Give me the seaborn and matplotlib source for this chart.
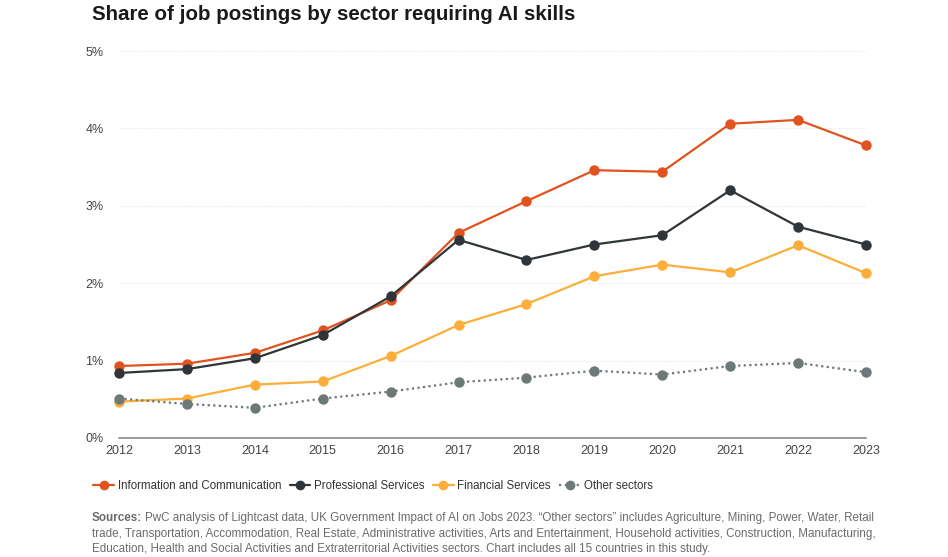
import pandas as pd
import matplotlib.pyplot as plt
import seaborn as sns
from matplotlib.lines import Line2D

years = list(range(2012, 2024))
info_comm = [0.93, 0.96, 1.10, 1.39, 1.78, 2.65, 3.06, 3.46, 3.44, 4.06, 4.11, 3.78]
prof_serv = [0.84, 0.89, 1.03, 1.33, 1.83, 2.56, 2.30, 2.50, 2.62, 3.20, 2.73, 2.50]
fin_serv = [0.47, 0.51, 0.69, 0.73, 1.06, 1.46, 1.73, 2.09, 2.24, 2.14, 2.49, 2.13]
other = [0.51, 0.44, 0.39, 0.51, 0.60, 0.72, 0.78, 0.87, 0.82, 0.93, 0.97, 0.85]

sectors = ['Information and Communication', 'Professional Services',
           'Financial Services', 'Other sectors']
colors = ['#E0531F', '#2F3538', '#FDAE3A', '#6D7878']

df = pd.DataFrame({
    'year': years * 4,
    'value': info_comm + prof_serv + fin_serv + other,
    'sector': [s for s in sectors for _ in years],
})

sns.set_style('white')
plt.rcParams['font.family'] = ['Liberation Sans', 'DejaVu Sans']

fig = plt.figure(figsize=(9.48, 5.57), dpi=100)
ax = fig.add_axes([119 / 948, 1 - 438 / 557, (866 - 119) / 948, (438 - 51) / 557])

palette = dict(zip(sectors, colors))
dashes = {sectors[0]: '', sectors[1]: '', sectors[2]: '', sectors[3]: (1, 1.5)}
sns.lineplot(data=df, x='year', y='value', hue='sector', style='sector',
             palette=palette, dashes=dashes, markers={s: 'o' for s in sectors},
             markersize=7.5, markeredgewidth=0, linewidth=1.6, legend=False,
             ax=ax, zorder=3)
for ln in ax.lines:
    ln.set_clip_on(False)

ax.set_xlim(2012, 2023)
ax.set_ylim(0, 5)
ax.set_xticks(years)
ax.set_yticks(range(6))
ax.set_yticklabels([f'{i}%' for i in range(6)])
ax.set_xlabel('')
ax.set_ylabel('')
ax.tick_params(axis='both', labelsize=9, colors='#444444', length=0)
ax.tick_params(axis='y', pad=11)
ax.tick_params(axis='x', pad=5)
for s in ['top', 'right', 'left']:
    ax.spines[s].set_visible(False)
ax.spines['bottom'].set_color('#8a8a8a')
ax.spines['bottom'].set_linewidth(1.2)
ax.grid(axis='y', color='#ececec', linestyle=(0, (1, 1)), linewidth=0.8)
ax.set_axisbelow(True)

fig.text(92 / 948, 1 - 15 / 557, 'Share of job postings by sector requiring AI skills',
         fontsize=14.8, fontweight='bold', color='#1a1a1a', va='center')

handles = [Line2D([0], [0], color=c, marker='o', markersize=7, markeredgewidth=0,
                  linewidth=1.6, linestyle=':' if s == 'Other sectors' else '-')
           for s, c in zip(sectors, colors)]
fig.legend(handles, sectors, loc='center left', bbox_to_anchor=(83 / 948, 1 - 486 / 557),
           ncol=4, frameon=False, fontsize=8.3, handlelength=1.8, handletextpad=0.3,
           columnspacing=0.75, labelcolor='#333333')

src_color = '#6b6b6b'
src_size = 8.4
x0 = 92 / 948
t = fig.text(x0, 1 - 518 / 557, 'Sources:', fontsize=src_size, fontweight='bold',
             color=src_color, va='center')
fig.canvas.draw()
bb = t.get_window_extent()
fig.text(bb.x1 / fig.bbox.width + 0.003, 1 - 518 / 557,
         'PwC analysis of Lightcast data, UK Government Impact of AI on Jobs 2023. '
         '\u201cOther sectors\u201d includes Agriculture, Mining, Power, Water, Retail',
         fontsize=src_size, color=src_color, va='center')
fig.text(x0, 1 - 534 / 557,
         'trade, Transportation, Accommodation, Real Estate, Administrative activities, '
         'Arts and Entertainment, Household activities, Construction, Manufacturing,',
         fontsize=src_size, color=src_color, va='center')
fig.text(x0, 1 - 549 / 557,
         'Education, Health and Social Activities and Extraterritorial Activities sectors. '
         'Chart includes all 15 countries in this study.',
         fontsize=src_size, color=src_color, va='center')

fig.savefig('out.png', dpi=100)
